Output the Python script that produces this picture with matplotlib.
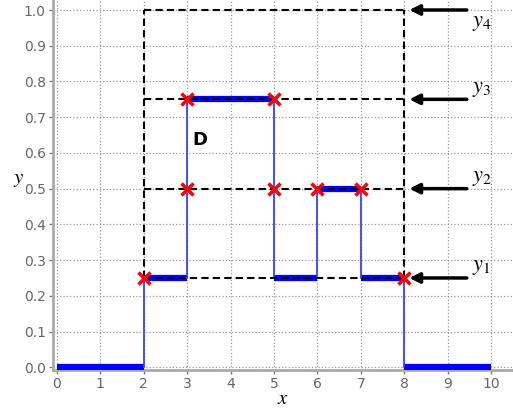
import numpy as np
import matplotlib.pyplot as plt

plt.rcParams['mathtext.fontset'] = 'stix'

# --- данные ступенчатой функции ---
step_x = [0, 2, 3, 5, 6, 7, 8, 10]
step_y = [0, 0.25, 0.75, 0.25, 0.5, 0.25, 0]
jump_x = [2, 3, 5, 6, 7, 8]
marker_x = [2, 3, 3, 5, 5, 6, 7, 8]
marker_y = [0.25, 0.5, 0.75, 0.75, 0.5, 0.5, 0.5, 0.25]
levels = [0.25, 0.5, 0.75, 1.0]
level_labels = [r'$y_1$', r'$y_2$', r'$y_3$', r'$y_4$']
level_start = [2, 2, 2, 2]
box_x = [2, 8]

fig = plt.figure(figsize=(5.13, 4.09), dpi=100)
ax = fig.add_axes([0.103, 0.095, 0.897, 0.905])

ax.set_xlim(-0.09, 10.5)
ax.set_ylim(-0.008, 1.028)
ax.set_xticks(range(0, 11))
ax.set_yticks(np.arange(0, 1.01, 0.1))
ax.set_yticklabels([f'{v:.1f}' for v in np.arange(0, 1.01, 0.1)])
ax.grid(True, color='#999999', ls=':', lw=0.9)
ax.tick_params(colors='#777777', labelcolor='#666666', labelsize=10, length=3, width=1, pad=2)
for s in ['top', 'right']:
    ax.spines[s].set_visible(False)
for s in ['left', 'bottom']:
    ax.spines[s].set_color('#aaaaaa')
    ax.spines[s].set_linewidth(2)

# ступенчатая функция
for i in range(len(step_y)):
    ax.plot([step_x[i], step_x[i + 1]], [step_y[i], step_y[i]], color='blue', lw=4.5,
            solid_capstyle='butt', zorder=3)
for i, jx in enumerate(jump_x):
    ax.plot([jx, jx], [step_y[i], step_y[i + 1]], color='#3344ff', lw=1.3, zorder=3)

# пунктирные уровни и рамка
for lv, x0 in zip(levels, level_start):
    ax.plot([x0, box_x[1]], [lv, lv], color='black', ls=(0, (3.5, 2)), lw=1.5, zorder=4)
for bx in box_x:
    ax.plot([bx, bx], [levels[0], levels[-1]], color='black', ls=(0, (3.5, 2)), lw=1.5, zorder=4)

ax.plot(marker_x, marker_y, 'x', color='red', ms=8, mew=2.5, zorder=5)

# стрелки и подписи уровней
for lv, lab in zip(levels, level_labels):
    ax.annotate('', xy=(8.05, lv), xytext=(9.5, lv),
                arrowprops=dict(arrowstyle='-|>,head_length=0.6,head_width=0.3', color='black', lw=2.5),
                zorder=4)
    dy = -0.035 if lv == 1.0 else 0.03
    ax.text(9.55, lv + dy, lab, fontsize=16, va='center', ha='left')

ax.text(3.3, 0.636, 'D', fontsize=13, fontweight='bold', ha='center', va='center')

ax.set_xlabel(r'$x$', fontsize=15, labelpad=-2)
ax.set_ylabel(r'$y$', fontsize=15, rotation=0, labelpad=6)
ax.yaxis.set_label_coords(-0.075, 0.49)

plt.savefig('out.png', dpi=100)
